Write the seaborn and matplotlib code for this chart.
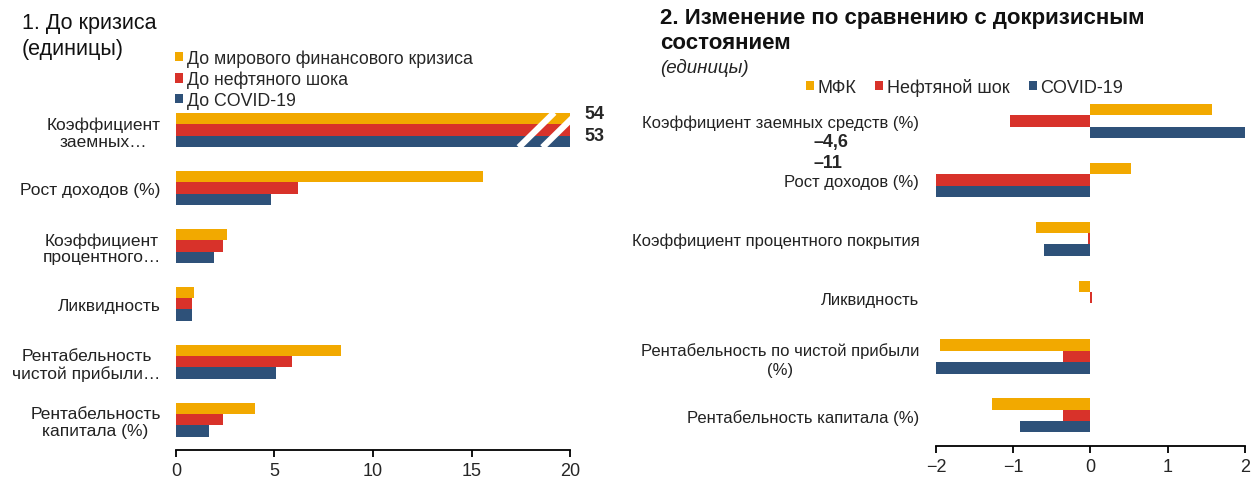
import numpy as np
import pandas as pd
import matplotlib
matplotlib.use('Agg')
import matplotlib.pyplot as plt
import seaborn as sns

# =============================================
# DATA
# =============================================
left_categories = ['Коэффициент\nзаемных…', 'Рост доходов (%)', 'Коэффициент\nпроцентного…',
                   'Ликвидность', 'Рентабельность\nчистой прибыли…', 'Рентабельность\nкапитала (%)']
left_series = ['До мирового финансового кризиса', 'До нефтяного шока', 'До COVID-19']
left_gfc = [54, 15.6, 2.6, 0.9, 8.4, 4.0]
left_oil = [54, 6.2, 2.4, 0.8, 5.9, 2.4]
left_covid = [53, 4.8, 1.95, 0.8, 5.1, 1.7]
left_ticks = [0, 5, 10, 15, 20]

right_categories = ['Коэффициент заемных средств (%)', 'Рост доходов (%)', 'Коэффициент процентного покрытия',
                    'Ликвидность', 'Рентабельность по чистой прибыли\n(%)', 'Рентабельность капитала (%)']
right_series = ['МФК', 'Нефтяной шок', 'COVID-19']
right_gfc = [1.57, 0.53, -0.70, -0.15, -1.95, -1.27]
right_oil = [-1.04, -4.6, -0.03, 0.02, -0.35, -0.35]
right_covid = [2.0, -11, -0.60, -0.01, -2.0, -0.91]
right_ticks = [-2, -1, 0, 1, 2]

colors = ['#F2A900', '#D8322A', '#2E5179']

# =============================================
# SETUP
# =============================================
sns.set_style('white')
plt.rcParams['font.family'] = ['Liberation Sans', 'DejaVu Sans']
plt.rcParams['axes.unicode_minus'] = True


def long_frame(cats, names, cols):
    rows = []
    for name, vals in zip(names, cols):
        for c, v in zip(cats, vals):
            rows.append({'cat': c, 'series': name, 'value': v})
    return pd.DataFrame(rows)


left_df = long_frame(left_categories, left_series, [left_gfc, left_oil, left_covid])
right_df = long_frame(right_categories, right_series, [right_gfc, right_oil, right_covid])

fig = plt.figure(figsize=(12.55, 4.81), dpi=100)
ax1 = fig.add_axes([0.1402, 0.0624, 0.314, 0.7256])
ax2 = fig.add_axes([0.7458, 0.0707, 0.2462, 0.737])


def style_axis(ax, ticks, pad, ysize, lsp):
    for s in ['top', 'right', 'left']:
        ax.spines[s].set_visible(False)
    ax.spines['bottom'].set_color('black')
    ax.spines['bottom'].set_linewidth(1.3)
    ax.set_xticks(ticks)
    ax.set_xlim(ticks[0], ticks[-1])
    ax.set_ylim(5.52, -0.5)
    ax.tick_params(axis='x', direction='out', length=5, width=1.3, color='black',
                   labelsize=13, pad=4, bottom=True)
    ax.tick_params(axis='y', length=0, pad=pad, labelsize=ysize)
    for lab in ax.get_yticklabels():
        lab.set_multialignment('center')
        lab.set_color('#222222')
        lab.set_linespacing(lsp)
    ax.set_xlabel('')
    ax.set_ylabel('')


# ---- panel 1 ----
sns.barplot(data=left_df, y='cat', x='value', hue='series', palette=colors,
            orient='h', width=0.58, ax=ax1, saturation=1, edgecolor='none')
style_axis(ax1, left_ticks, 11, 12.5, 1.15)
h, l = ax1.get_legend_handles_labels()
ax1.legend(h, l, loc='upper left', bbox_to_anchor=(0.1395, 0.895), bbox_transform=fig.transFigure,
           frameon=False, fontsize=12.8, handlelength=0.45, handleheight=0.45, handletextpad=0.2,
           labelspacing=0.2, borderpad=0, borderaxespad=0)

# break marks on the truncated first group
for x_top, x_bot in [(19.2, 17.4), (20.4, 18.6)]:
    ax1.plot([x_bot, x_top], [0.30, -0.30], color='white', lw=4.5, solid_capstyle='butt')
ax1.text(20.75, -0.29, f'{left_gfc[0]}', fontsize=13, fontweight='bold', va='center', ha='left')
ax1.text(20.75, 0.10, f'{left_covid[0]}', fontsize=13, fontweight='bold', va='center', ha='left')

# ---- panel 2 ----
sns.barplot(data=right_df, y='cat', x='value', hue='series', palette=colors,
            orient='h', width=0.58, ax=ax2, saturation=1, edgecolor='none')
style_axis(ax2, right_ticks, 12, 12, 1.3)
h, l = ax2.get_legend_handles_labels()
ax2.legend(h, l, loc='upper left', bbox_to_anchor=(0.642, 0.836), bbox_transform=fig.transFigure,
           frameon=False, fontsize=13, ncol=3, handlelength=0.45, handleheight=0.45,
           handletextpad=0.2, columnspacing=1.05, borderpad=0, borderaxespad=0)

fmt = lambda v: f'{v}'.replace('.', ',').replace('-', '\u2013')
ax2.text(-0.398, 0.35, fmt(right_oil[1]), transform=ax2.get_yaxis_transform(),
         fontsize=13, fontweight='bold', va='center', ha='left')
ax2.text(-0.398, 0.71, fmt(right_covid[1]), transform=ax2.get_yaxis_transform(),
         fontsize=13, fontweight='bold', va='center', ha='left')

# ---- titles ----
fig.text(22 / 1255, 1 - 13 / 481, '1. До кризиса\n(единицы)', fontsize=15.5, va='top', ha='left',
         linespacing=1.3, color='#111111')
fig.text(660 / 1255, 1 - 8 / 481, '2. Изменение по сравнению с докризисным\nсостоянием',
         fontsize=16, fontweight='bold', va='top', ha='left', linespacing=1.25, color='#111111')
fig.text(660 / 1255, 1 - 68 / 481, '(единицы)', fontsize=13.5, style='italic', va='center',
         ha='left', color='#222222')

fig.savefig('out.png', dpi=100)
